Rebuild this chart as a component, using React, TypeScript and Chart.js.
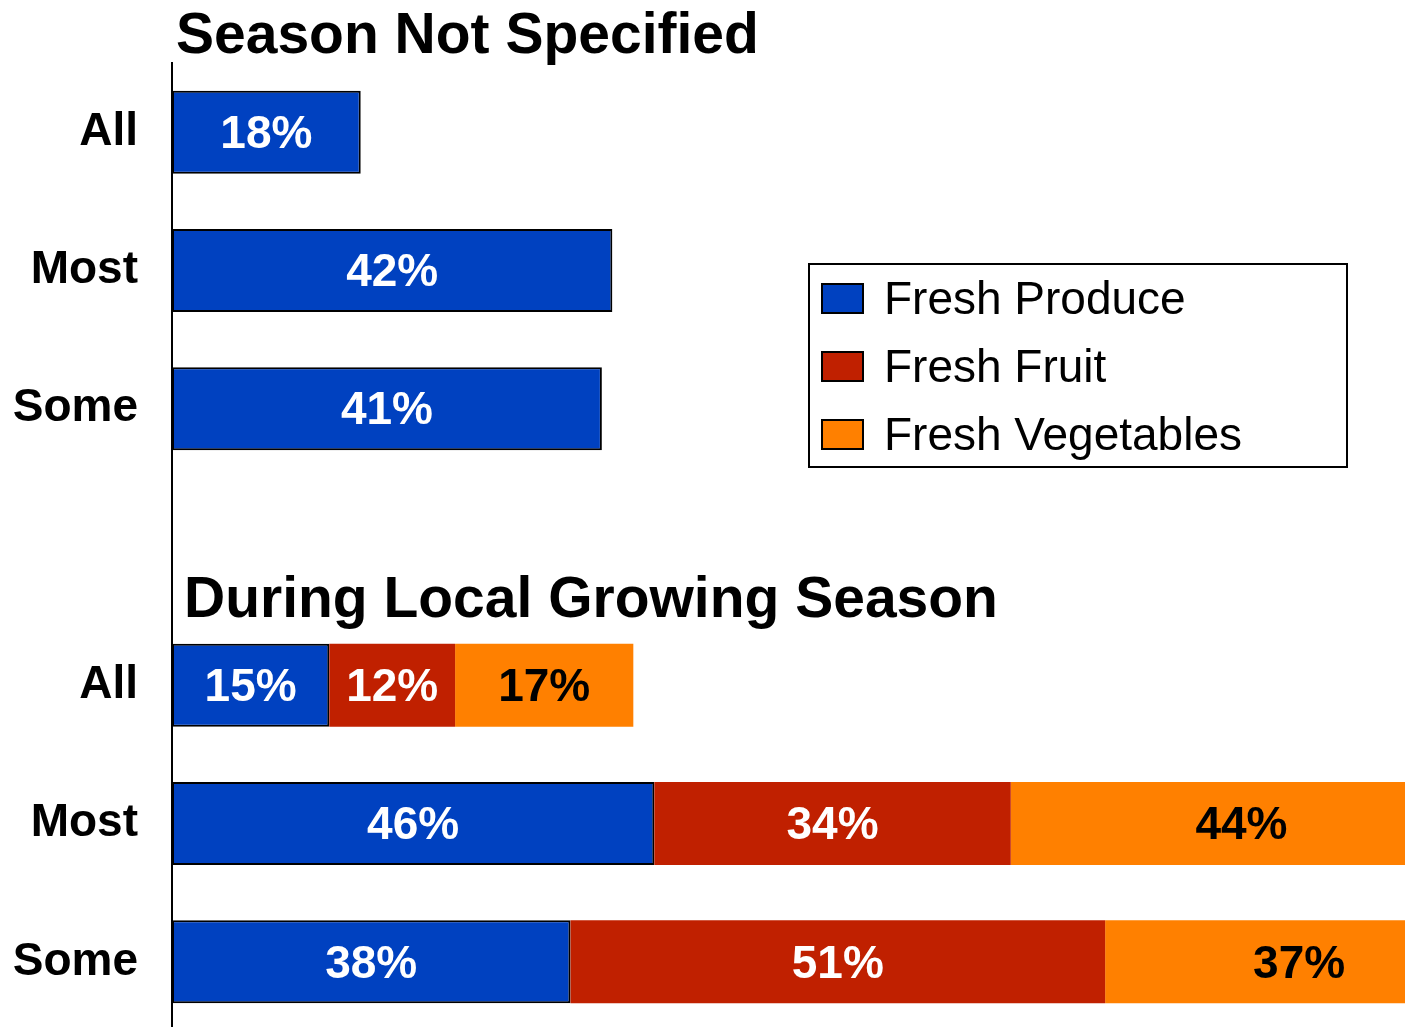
import React, { useEffect, useRef } from "react";
import { Chart, registerables } from "chart.js";

Chart.register(...registerables);

const categories = ["All", "Most", "Some", "", "All", "Most", "Some"];
const freshProduce = [18, 42, 41, null, 15, 46, 38];
const freshFruit = [null, null, null, null, 12, 34, 51];
const freshVegetables = [null, null, null, null, 17, 44, 37];
const seriesNames = ["Fresh Produce", "Fresh Fruit", "Fresh Vegetables"];
const sectionTitles = ["Season Not Specified", "During Local Growing Season"];

const BLUE = "#0041C0";
const RED = "#C02000";
const ORANGE = "#FF8000";
const FONT = '"Liberation Sans", Arial, sans-serif';

const labelPlugin = {
  id: "barLabels",
  afterDatasetsDraw(chart: any) {
    const ctx = chart.ctx;
    ctx.save();
    ctx.font = `bold 46px ${FONT}`;
    ctx.textAlign = "center";
    ctx.textBaseline = "middle";
    chart.data.datasets.forEach((ds: any, i: number) => {
      const meta = chart.getDatasetMeta(i);
      meta.data.forEach((el: any, j: number) => {
        const v = ds.data[j];
        if (v === null || v === undefined) return;
        const p = el.getProps(["x", "base", "y"], true);
        ctx.fillStyle = ds.labelColor;
        ctx.fillText(`${v}%`, (p.x + p.base) / 2, p.y + 3);
      });
    });
    ctx.restore();
  },
};

const decorPlugin = {
  id: "decor",
  afterDraw(chart: any) {
    const ctx = chart.ctx;
    ctx.save();
    // Section titles
    ctx.fillStyle = "#000";
    ctx.font = `bold 57px ${FONT}`;
    ctx.textAlign = "left";
    ctx.textBaseline = "alphabetic";
    ctx.fillText(sectionTitles[0], 176, 53);
    ctx.fillText(sectionTitles[1], 184, 617);

    // Legend
    ctx.fillStyle = "#fff";
    ctx.fillRect(809, 264, 538, 203);
    ctx.strokeStyle = "#000";
    ctx.lineWidth = 2;
    ctx.strokeRect(809, 264, 538, 203);
    ctx.font = `46px ${FONT}`;
    ctx.textBaseline = "middle";
    chart.data.datasets.forEach((ds: any, i: number) => {
      const cy = 298 + i * 68;
      ctx.fillStyle = ds.backgroundColor;
      ctx.fillRect(822, cy - 14, 41, 29);
      ctx.strokeStyle = "#000";
      ctx.lineWidth = 2;
      ctx.strokeRect(822, cy - 14, 41, 29);
      ctx.fillStyle = "#000";
      ctx.fillText(ds.label, 884, cy + 3);
    });
    ctx.restore();
  },
};

export default function App() {
  const ref = useRef<HTMLCanvasElement>(null);

  useEffect(() => {
    if (!ref.current) return;
    const chart = new Chart(ref.current, {
      type: "bar",
      data: {
        labels: categories,
        datasets: [
          {
            label: seriesNames[0],
            data: freshProduce,
            backgroundColor: BLUE,
            borderColor: "#000",
            borderWidth: 2,
            borderSkipped: false,
            labelColor: "#fff",
          } as any,
          {
            label: seriesNames[1],
            data: freshFruit,
            backgroundColor: RED,
            borderWidth: 0,
            labelColor: "#fff",
          } as any,
          {
            label: seriesNames[2],
            data: freshVegetables,
            backgroundColor: ORANGE,
            borderWidth: 0,
            labelColor: "#000",
          } as any,
        ],
      },
      options: {
        indexAxis: "y",
        responsive: false,
        animation: false,
        devicePixelRatio: 1,
        layout: { padding: { top: 63, bottom: 0, left: 0, right: 0 } },
        datasets: { bar: { categoryPercentage: 1, barPercentage: 0.6 } },
        plugins: {
          legend: { display: false },
          tooltip: { enabled: false },
          title: { display: false },
        },
        scales: {
          x: {
            stacked: true,
            min: 0,
            max: 117.6,
            display: false,
          },
          y: {
            stacked: true,
            grid: { display: false, drawTicks: false },
            border: { display: true, color: "#000", width: 2 },
            ticks: {
              color: "#000",
              padding: 34,
              font: { family: FONT, size: 46, weight: "bold", lineHeight: 1.0 },
            },
            afterFit(scale: any) {
              scale.width = 172;
              scale.paddingTop = 0;
              scale.paddingBottom = 0;
            },
          },
        },
      },
      plugins: [labelPlugin, decorPlugin],
    });
    return () => chart.destroy();
  }, []);

  return (
    <div
      style={{
        position: "fixed",
        top: 0,
        left: 0,
        width: 1405,
        height: 1027,
        overflow: "hidden",
        background: "#fff",
      }}
    >
      <canvas ref={ref} width={1405} height={1031} style={{ display: "block" }} />
    </div>
  );
}
